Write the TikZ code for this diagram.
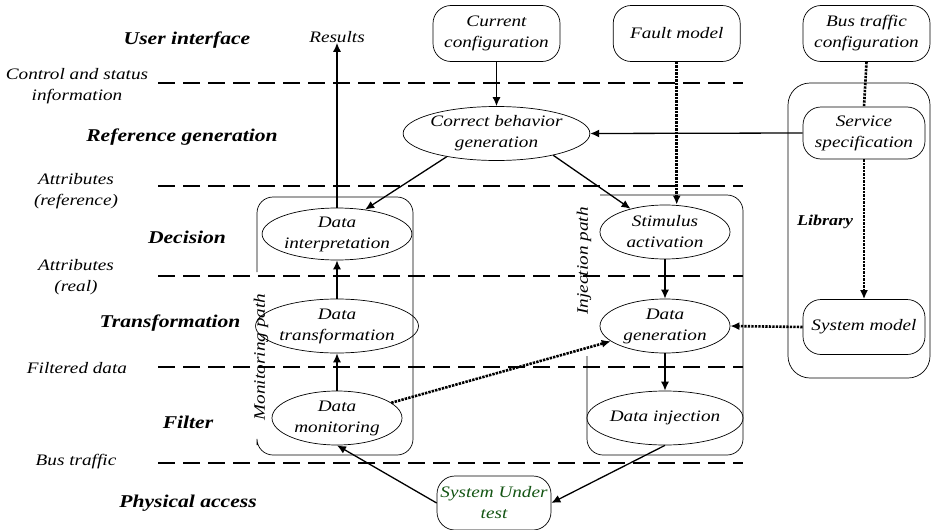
\documentclass[tikz,border=0pt]{standalone}
\usepackage{fontspec}
\setmainfont{Liberation Serif}[FakeStretch=1.2]
\usetikzlibrary{arrows.meta,shapes.geometric}
\definecolor{sutgreen}{RGB}{20,85,20}

\begin{document}
\begin{tikzpicture}[x=1pt,y={(0pt,-1pt)},
  txt/.style={font=\itshape\fontsize{16}{21}\selectfont, align=center, inner sep=0pt},
  layer/.style={font=\bfseries\itshape\fontsize{18}{22}\selectfont, inner sep=0pt},
  proc/.style={txt, ellipse, draw, line width=0.7pt, minimum width=130pt, minimum height=54pt},
  src/.style={txt, rectangle, draw, line width=0.7pt, rounded corners=18pt, minimum width=127pt, minimum height=56pt},
  group/.style={line width=0.7pt, rounded corners=16pt},
  sep/.style={line width=1.8pt, dash pattern=on 17pt off 8pt},
  flow/.style={line width=1.3pt, -{Latex[length=9pt,width=8pt]}},
  dataflow/.style={line width=2.6pt, dash pattern=on 2.4pt off 1.1pt, -{Latex[length=9pt,width=8pt]}},
  datalink/.style={line width=2.6pt, dash pattern=on 2.4pt off 1.1pt}]

\useasboundingbox (0,0) rectangle (932,530);

% grouping frames
\draw[group, rounded corners=22pt] (788,83) rectangle (930,378);
\draw[group] (257,272) -- (257,197) -- (413,197) -- (413,455) -- (257,455) -- (257,445);
\draw[group] (600,195) -- (743,195) -- (743,455) -- (587,455) -- (587,356);

\node[txt, rotate=90] (monpath) at (261,357) {Monitoring path};
\node[txt, rotate=90] (injpath) at (584,261) {Injection path};
\node[layer, font=\bfseries\itshape\fontsize{15}{18}\selectfont] (library) at (825,222) {Library};

% layer names and interfaces
\node[layer] (l1) at (187,40) {User interface};
\node[txt] (i1) at (77,86) {Control and status\\information};
\node[layer] (l2) at (182,137) {Reference generation};
\node[txt] (i2) at (76,191) {Attributes\\(reference)};
\node[layer] (l3) at (187,237) {Decision};
\node[txt] (i3) at (76,277) {Attributes\\(real)};
\node[layer] (l4) at (170,323) {Transformation};
\node[txt] (i4) at (77,368) {Filtered data};
\node[layer] (l5) at (188,422) {Filter};
\node[txt] (i5) at (76,462) {Bus traffic};
\node[layer] (l6) at (188,503) {Physical access};

% layer boundaries
\foreach \yy in {82.7,186,276,367,462.7}
  \draw[sep] (158,\yy) -- (743,\yy);

% sources
\node[txt] (results) at (337,37) {Results};
\node[src] (curcfg) at (496.5,33.5) {Current\\configuration};
\node[src] (fault) at (676.7,33.5) {Fault model};
\node[src] (buscfg) at (866.5,33.5) {Bus traffic\\configuration};
\node[src, minimum width=122pt, minimum height=52pt] (service) at (864,133) {Service\\specification};
\node[src, minimum width=122pt, minimum height=55pt] (sysmodel) at (864,327) {System model};
\node[src, minimum width=114pt, minimum height=54pt, text=sutgreen] (sut) at (494,503) {System Under\\test};

% processing steps
\node[proc, minimum width=163pt] (corr) at (496.5,133.5) {Correct behavior\\generation};
\node[proc, minimum height=52pt] (interp) at (337,234) {Data\\interpretation};
\node[proc] (transf) at (337,326) {Data\\transformation};
\node[proc] (mon) at (337,418) {Data\\monitoring};
\node[proc] (stim) at (665,232) {Stimulus\\activation};
\node[proc] (gen) at (665,326) {Data\\generation};
\node[proc] (inj) at (665,418) {Data injection};

% monitoring path
\draw[flow] (sut.west) -- (mon.south);
\draw[flow] (mon.north) -- (transf.south);
\draw[flow] (transf.north) -- (interp.south);
\draw[flow] (interp.north) -- (results.south);

% reference generation
\draw[flow] (curcfg.south) -- (corr.north);
\draw[flow] (service.west) -- (corr.east);
\draw[flow] (corr.205) -- (interp.41);
\draw[flow] (corr.339) -- (stim.146);

% injection path
\draw[flow] (stim.south) -- (gen.north);
\draw[flow] (gen.south) -- (inj.north);
\draw[flow] (inj.south) -- (sut.east);

% model data
\draw[dataflow] (fault.south) -- (fault.south |- stim.north);
\draw[datalink] (buscfg.south) -- (service.north);
\draw[dataflow] (service.south) -- (sysmodel.north);
\draw[dataflow] (sysmodel.west) -- (gen.east);
\draw[dataflow] (mon) -- (gen);

\end{tikzpicture}
\end{document}
